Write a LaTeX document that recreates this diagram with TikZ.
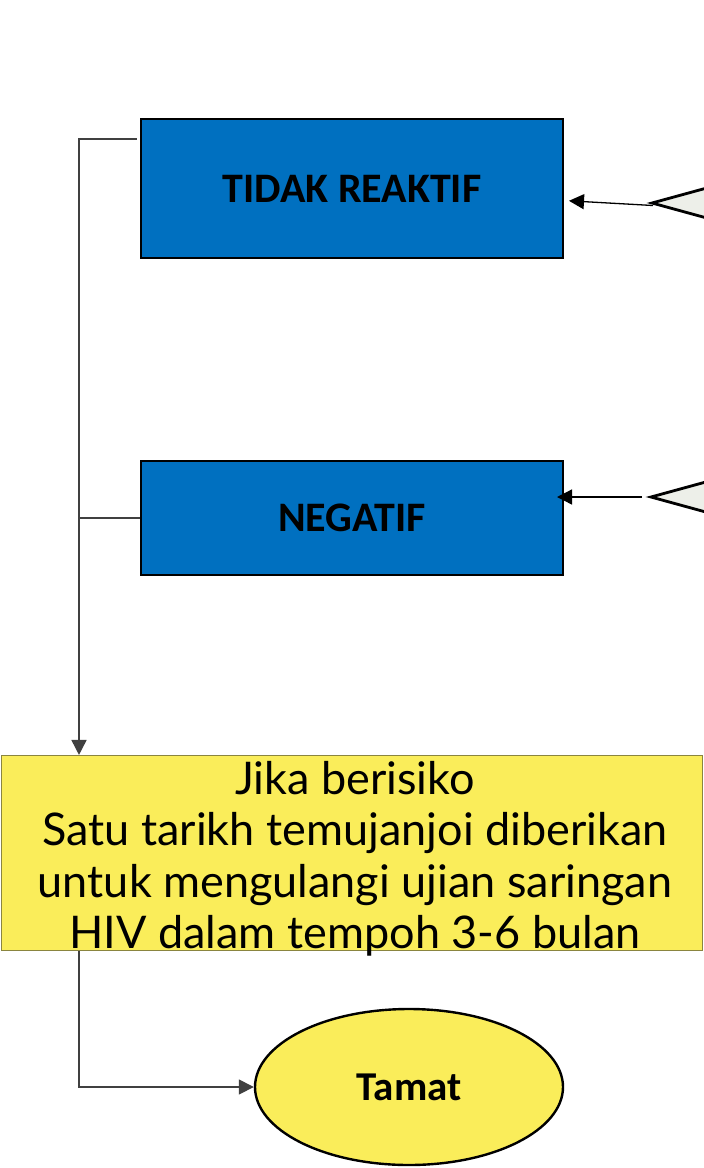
\documentclass[tikz,border=0pt]{standalone}
\usepackage{fontspec}
\setmainfont{Carlito}
\newfontfamily\latofont{Lato}
\usetikzlibrary{arrows.meta,shapes.geometric}
\definecolor{boxblue}{HTML}{0070C0}
\definecolor{boxyellow}{HTML}{FAED5A}
\definecolor{dmdfill}{HTML}{EDEFE9}
\definecolor{connGray}{HTML}{404040}
\definecolor{yborder}{HTML}{8A8540}
\tikzset{
  bluebox/.style={draw=black, line width=2.2pt, fill=boxblue, minimum width=422pt, font=\fontsize{42}{50}\selectfont\bfseries, inner sep=0pt},
  dmd/.style={draw=black, line width=2.8pt, fill=dmdfill, line join=miter},
  conn/.style={draw=connGray, line width=1.6pt},
  arr/.style={draw=black, line width=1.3pt, -{Triangle[length=15pt,width=15pt]}},
  tipend/.style={-{Triangle[length=15pt,width=15pt]}},
}
\begin{document}
\begin{tikzpicture}[x=1pt,y=-1pt]
\useasboundingbox (0,0) rectangle (704,1168);
% boxes
\node[bluebox, minimum height=139pt] (tr) at (352,188.5) {TIDAK REAKTIF};
\node[bluebox, minimum height=114pt] (ng) at (352,518) {NEGATIF};
\node[draw=yborder, line width=1pt, fill=boxyellow, minimum width=701pt, minimum height=195.5pt, inner sep=0pt] (yb) at (351.5,853.2) {};
\node[align=center, inner sep=0pt, font=\latofont\fontsize{45}{51.5}\selectfont] (yt) at (355,859) {Jika berisiko\\Satu tarikh temujanjoi diberikan\\untuk mengulangi ujian saringan\\HIV dalam tempoh 3-6 bulan};
\node[ellipse, draw=black, line width=2.4pt, fill=boxyellow, minimum width=308pt, minimum height=156pt, inner sep=0pt, font=\fontsize{41}{48}\selectfont\bfseries] (tm) at (409,1087) {Tamat};
% diamonds (cut off at the right edge)
\coordinate (d1tip) at (652,203);
\coordinate (d2tip) at (651,497);
\draw[dmd] (d1tip) -- ++(108,-29.6) -- ++(108,29.6) -- ++(-108,29.6) -- cycle;
\draw[dmd] (d2tip) -- ++(108,-29.6) -- ++(108,29.6) -- ++(-108,29.6) -- cycle;
% arrows from diamonds
\coordinate (a1s) at (653,205.5);
\coordinate (a1e) at (569,200.8);
\coordinate (a2s) at (642,497);
\coordinate (a2e) at (557,497);
\draw[arr] (a1s) -- (a1e);
\draw[arr] (a2s) -- (a2e);
% left rail
\coordinate (rail) at (79,139);
\draw[conn, tipend] ([shift={(-3,21.1)}]tr.north west) -- (rail) -- (rail |- yb.north);
\draw[conn] (ng.west) -- (rail |- ng.west);
\draw[conn, tipend] (rail |- yb.south) |- (tm.west);
\end{tikzpicture}
\end{document}
